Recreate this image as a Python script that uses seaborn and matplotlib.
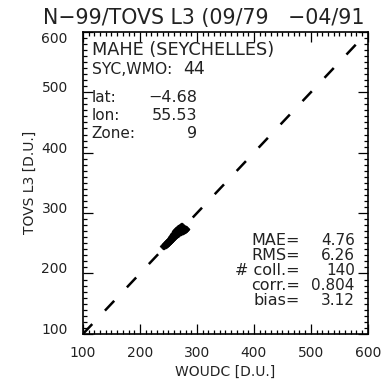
import matplotlib
matplotlib.use("Agg")
import matplotlib.pyplot as plt
import seaborn as sns
import pandas as pd
from matplotlib.ticker import MultipleLocator

woudc = [241, 243, 244, 245, 246, 247, 248, 249, 250, 250, 251, 252, 253, 253, 254, 255, 255, 256, 257, 257,
         258, 258, 259, 260, 260, 261, 261, 262, 262, 263, 263, 264, 264, 265, 265, 266, 266, 267, 267, 268,
         268, 269, 269, 270, 270, 271, 271, 272, 272, 273, 273, 274, 274, 275, 275, 276, 276, 277, 278, 279,
         280, 281, 262, 266, 270, 268, 272, 258, 264, 274]
tovs = [245, 246, 249, 247, 250, 249, 252, 251, 254, 250, 255, 253, 257, 254, 256, 260, 255, 258, 262, 257,
        261, 264, 260, 265, 261, 263, 267, 262, 268, 265, 270, 264, 268, 271, 266, 269, 273, 265, 270, 272,
        268, 274, 270, 272, 268, 275, 270, 273, 269, 276, 271, 272, 275, 270, 273, 274, 271, 272, 275, 272,
        274, 273, 271, 275, 277, 276, 278, 266, 272, 278]

title = "N\u221299/TOVS L3 (09/79   \u221204/91"
station_name = "MAHE (SEYCHELLES)"
station_id_label = "SYC,WMO:"
station_id_value = "44"
info_labels = ["lat:", "lon:", "Zone:"]
info_values = ["\u22124.68", "55.53", "9"]
stat_labels = ["MAE=", "RMS=", "# coll.=", "corr.=", "bias="]
stat_values = ["4.76", "6.26", "140", "0.804", "3.12"]
axis_range = [100, 600]

sns.set_style("ticks")
plt.rcParams['font.family'] = ['DejaVu Sans']

df = pd.DataFrame({"WOUDC": woudc, "TOVS": tovs})
diag = pd.DataFrame({"x": axis_range, "y": axis_range})

fig = plt.figure(figsize=(3.86, 3.79), dpi=100)
ax = fig.add_axes([0.215, 0.119, 0.738, 0.797])

sns.lineplot(data=diag, x="x", y="y", ax=ax, color="black", lw=1.8,
             dashes=False, linestyle=(0, (5.4, 7.4)))
sns.scatterplot(data=df, x="WOUDC", y="TOVS", ax=ax, color="black", s=12,
                marker="D", edgecolor="black", linewidth=0.5, zorder=3)

ax.set_xlim(axis_range)
ax.set_ylim(axis_range)
ax.xaxis.set_major_locator(MultipleLocator(100))
ax.yaxis.set_major_locator(MultipleLocator(100))
ax.xaxis.set_minor_locator(MultipleLocator(10))
ax.yaxis.set_minor_locator(MultipleLocator(10))
ax.tick_params(which="both", direction="in", top=True, right=True, color="black", width=0.9)
ax.tick_params(which="major", length=7, labelsize=10, labelcolor="#222222")
ax.tick_params(axis="x", which="major", pad=9)
ax.tick_params(axis="y", which="major", pad=11)
ax.tick_params(which="minor", length=3)
for s in ax.spines.values():
    s.set_linewidth(1.2)
    s.set_color("black")

ax.set_xlabel("WOUDC [D.U.]", fontsize=10, color="#222222", labelpad=3)
ax.set_ylabel("TOVS L3 [D.U.]", fontsize=10, color="#222222", labelpad=3)

fig.text(0.111, 1 - 24 / 379, title, fontsize=14.8, ha="left", va="baseline", color="#222222")

tk = dict(transform=ax.transAxes, va="baseline", color="#222222")
ax.text(0.03, 0.924, station_name, fontsize=12.8, ha="left", **tk)
ax.text(0.03, 0.861, station_id_label, fontsize=11.2, ha="left", **tk)
ax.text(0.428, 0.861, station_id_value, fontsize=12.5, ha="right", **tk)
for i, (lab, val) in enumerate(zip(info_labels, info_values)):
    y = 0.768 - i * 0.0595
    ax.text(0.03, y, lab, fontsize=11, ha="left", **tk)
    ax.text(0.40, y, val, fontsize=11.5, ha="right", **tk)
for i, (lab, val) in enumerate(zip(stat_labels, stat_values)):
    y = 0.295 - i * 0.0495
    ax.text(0.761, y, lab, fontsize=11.5, ha="right", **tk)
    ax.text(0.954, y, val, fontsize=11, ha="right", **tk)

fig.canvas.draw()
ylabels = ax.yaxis.get_majorticklabels()
for lbl in ylabels:
    lbl.set_verticalalignment("baseline")
top_lbl = [l for l in ylabels if l.get_position()[1] == axis_range[1]]
for l in top_lbl:
    l.set_verticalalignment("top")

fig.savefig("out.png", dpi=100)
